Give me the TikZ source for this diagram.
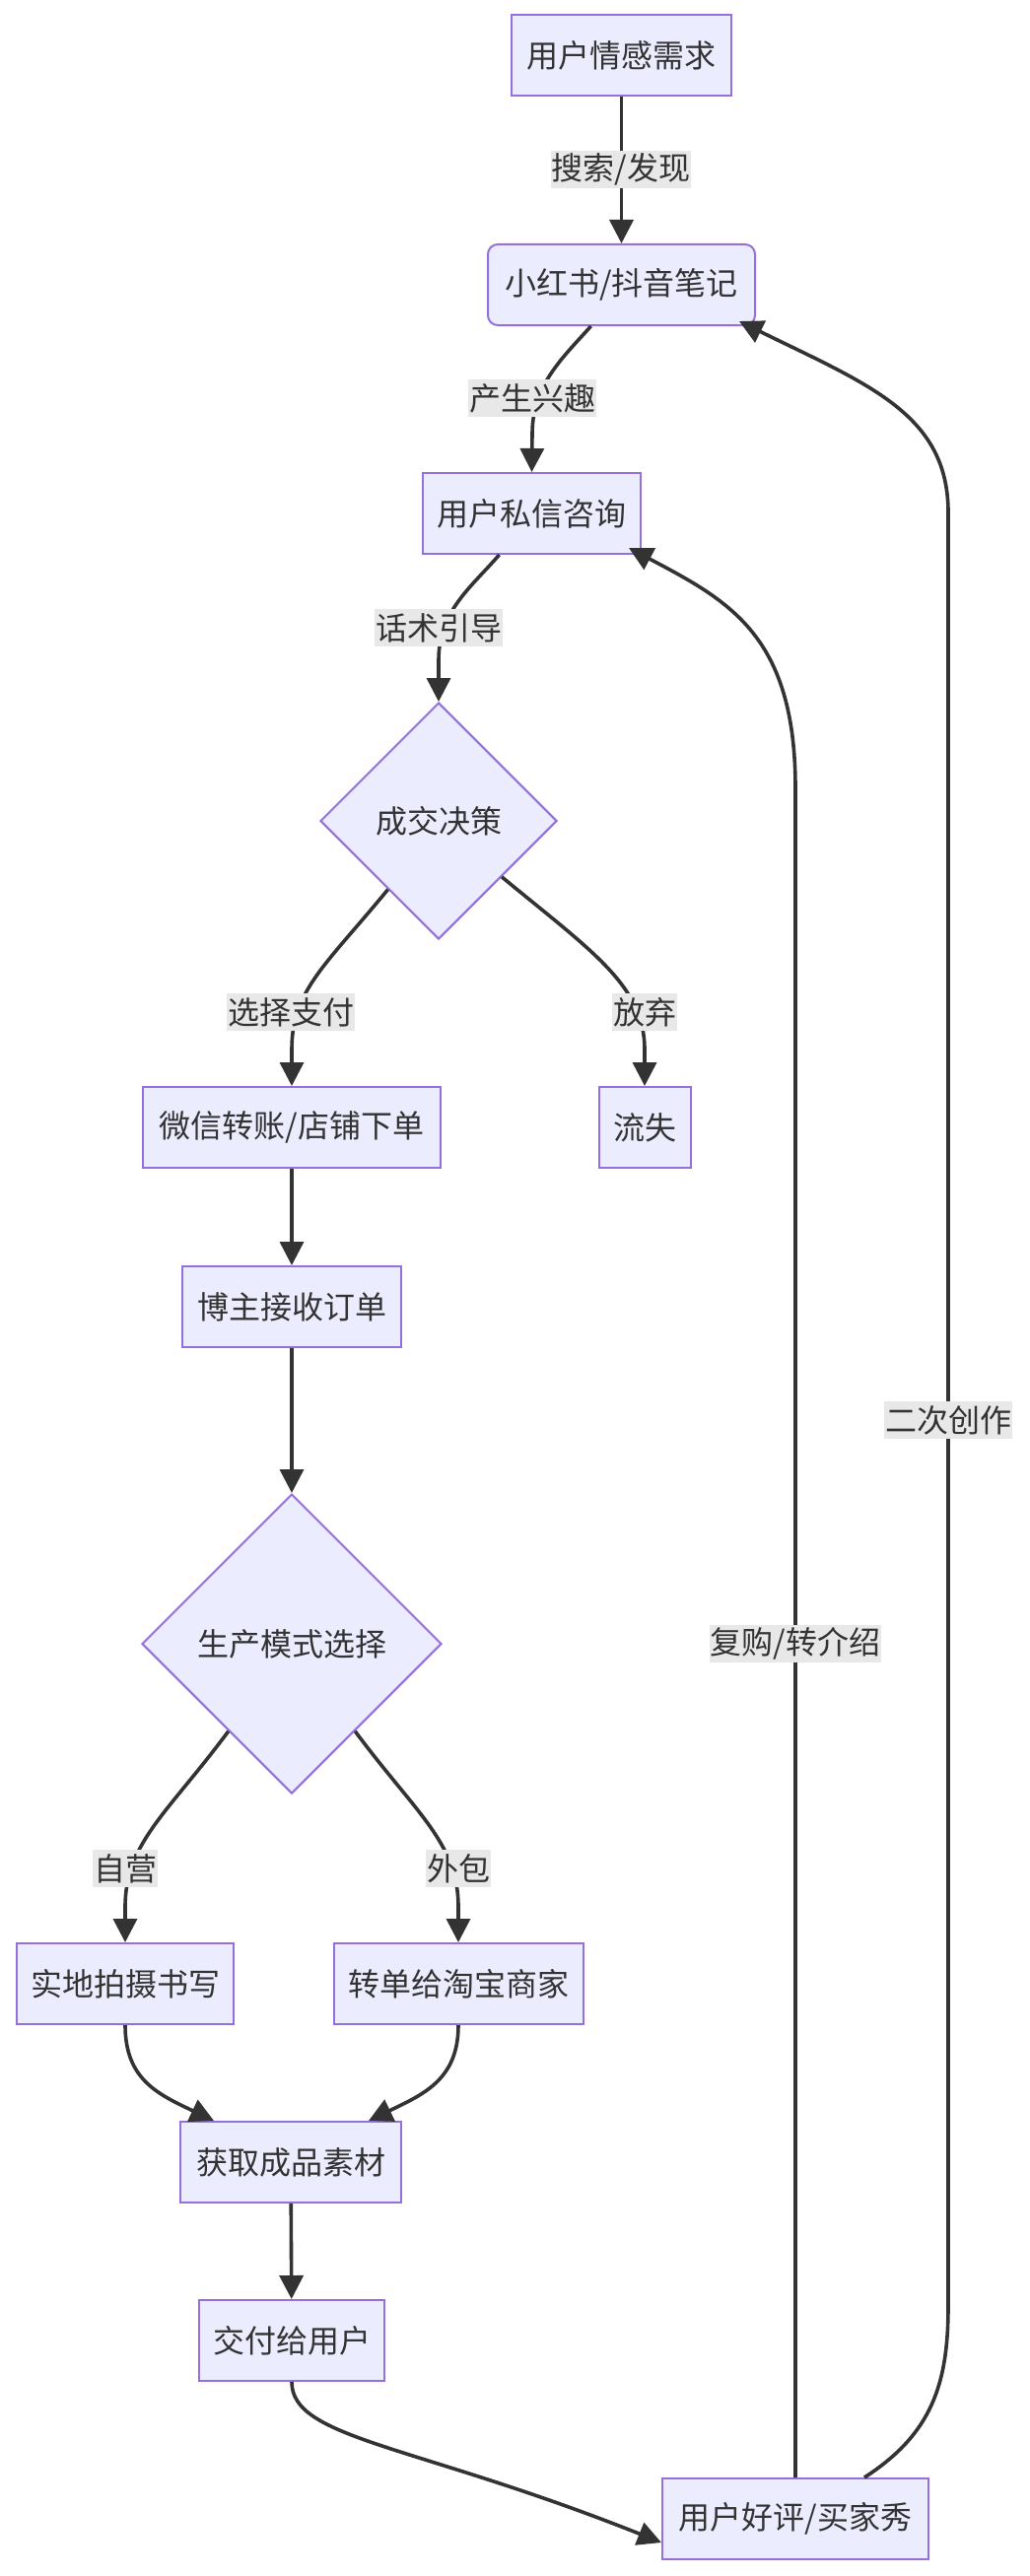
\documentclass[tikz,border=0pt]{standalone}
\usepackage{fontspec}
\setmainfont{Noto Sans CJK SC}
\usetikzlibrary{shapes.geometric,arrows.meta,calc}
\definecolor{nodefill}{HTML}{ECECFF}
\definecolor{nodeborder}{HTML}{9370DB}
\definecolor{ink}{HTML}{333333}
\definecolor{lblbg}{HTML}{E8E8E8}
\begin{document}
\begin{tikzpicture}[x=1pt,y=-1pt,
  txt/.style={text=ink, font=\fontsize{32}{38}\selectfont},
  box/.style={txt, draw=nodeborder, fill=nodefill, line width=2pt, minimum height=82pt, inner sep=0pt},
  dia/.style={txt, diamond, aspect=1, draw=nodeborder, fill=nodefill, line width=2pt, inner sep=0pt},
  lbl/.style={txt, fill=lblbg, inner xsep=1pt, inner ysep=0pt, minimum height=38pt},
  flow/.style={draw=ink, line width=3.6pt, -{Triangle[length=24pt,width=24pt]}}
]
\fill[white] (0,0) rectangle (1044,2614);
\useasboundingbox (0,0) rectangle (1044,2614);

% nodes
\node[box, minimum width=223pt] (A) at (630.5,56) {用户情感需求};
\node[box, minimum width=271pt, rounded corners=10pt] (B) at (630.5,289) {小红书/抖音笔记};
\node[box, minimum width=221pt] (C) at (539.5,521) {用户私信咨询};
\node[dia, minimum width=240pt, minimum height=240pt] (D) at (445,833) {成交决策};
\node[box, minimum width=302pt] (E) at (296,1144) {微信转账/店铺下单};
\node[box, minimum width=93pt] (F) at (654,1144) {流失};
\node[box, minimum width=222pt] (G) at (296,1326) {博主接收订单};
\node[dia, minimum width=304pt, minimum height=304pt] (H) at (296,1668) {生产模式选择};
\node[box, minimum width=220pt] (I) at (127,2013) {实地拍摄书写};
\node[box, minimum width=253pt] (J) at (465,2013) {转单给淘宝商家};
\node[box, minimum width=224pt] (K) at (295,2194) {获取成品素材};
\node[box, minimum width=188pt] (L) at (296,2375) {交付给用户};
\node[box, minimum width=270pt] (M) at (807,2556) {用户好评/买家秀};

% edges
\draw[flow] (A) -- (B);
\draw[flow] ([xshift=-31pt]B.south) .. controls (572,362) and (540,390) .. (540,440) -- (C.north);
\draw[flow] ([xshift=-33pt]C.south) .. controls (478,596) and (445,620) .. (445,670) -- (D.north);
\draw[flow] ($(D.west)!0.575!(D.south)$) .. controls (330,980) and (296,1005) .. (296,1065) -- (E.north);
\draw[flow] ($(D.east)!0.47!(D.south)$) .. controls (600,965) and (654,1000) .. (654,1065) -- (F.north);
\draw[flow] (E) -- (G);
\draw[flow] (G) -- (H);
\draw[flow] ($(H.west)!0.58!(H.south)$) .. controls (170,1840) and (127,1870) .. (127,1935) -- (I.north);
\draw[flow] ($(H.east)!0.58!(H.south)$) .. controls (422,1840) and (465,1870) .. (465,1935) -- (J.north);
\draw[flow] (I.south) .. controls (127,2110) and (160,2125) .. ([xshift=-78pt]K.north);
\draw[flow] (J.south) .. controls (465,2110) and (430,2125) .. ([xshift=79pt]K.north);
\draw[flow] (K) -- (L);
\draw[flow] (L.south) .. controls (296,2475) and (420,2480) .. ([yshift=-24pt]M.west);
\draw[flow] (M.north) -- (807,800) .. controls (807,645) and (740,610) .. ([shift={(-13pt,7pt)}]C.south east);
\draw[flow] ([xshift=70pt]M.north) .. controls (945,2470) and (962,2420) .. (962,2340) -- (962,520) .. controls (962,420) and (880,390) .. ([shift={(-17pt,5pt)}]B.south east);

% edge labels
\node[lbl] (l1) at (630,172) {搜索/发现};
\node[lbl] (l2) at (540,404) {产生兴趣};
\node[lbl] (l3) at (445,637) {话术引导};
\node[lbl] (l4) at (295,1027) {选择支付};
\node[lbl] (l5) at (654,1027) {放弃};
\node[lbl] (l6) at (127,1896) {自营};
\node[lbl] (l7) at (465,1896) {外包};
\node[lbl] (l8) at (807,1668) {复购/转介绍};
\node[lbl] (l9) at (962,1441) {二次创作};
\end{tikzpicture}
\end{document}
